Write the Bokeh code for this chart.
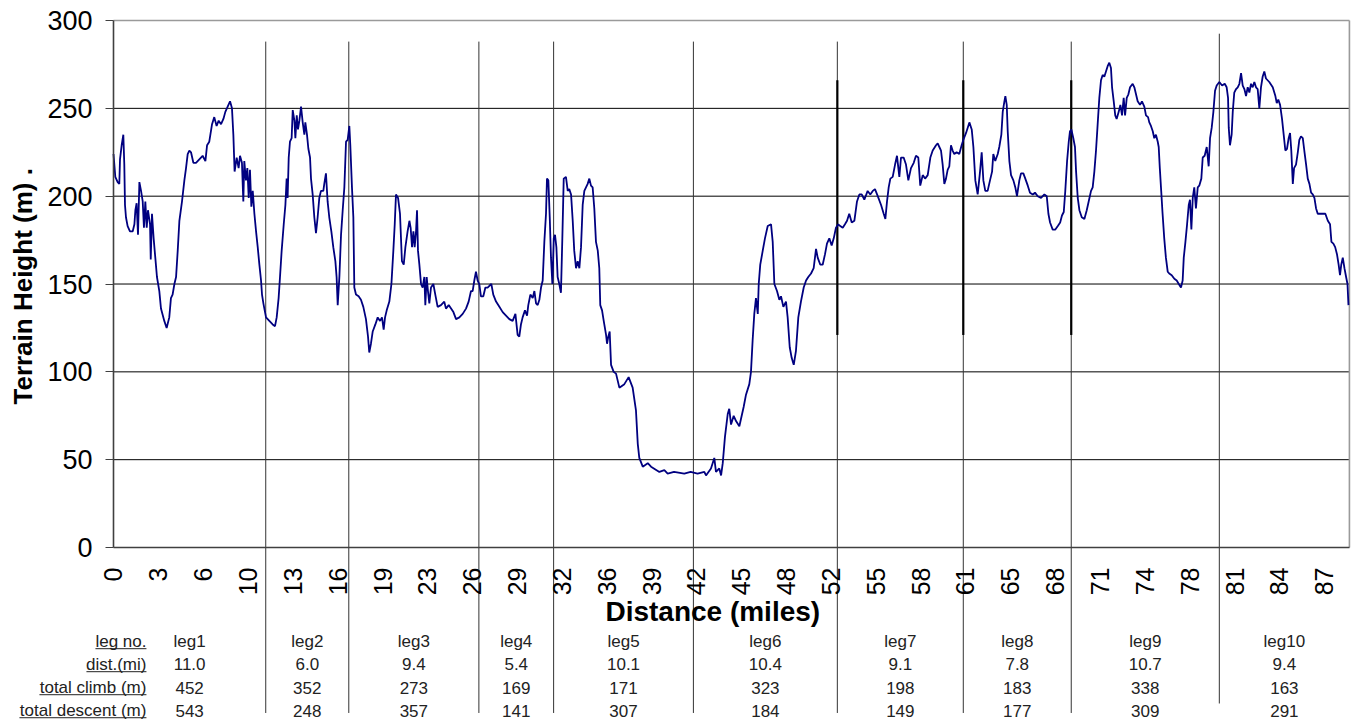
import math
from bokeh.plotting import figure
from bokeh.models import Range1d, FixedTicker, ColumnDataSource
from bokeh.core.properties import value
from bokeh.embed import file_html
from bokeh.resources import INLINE

# ---------------- data ----------------
dist_mi = [
    0.00, 0.13, 0.30, 0.42, 0.47, 0.59, 0.71, 0.78, 0.83, 0.90, 1.02, 1.19, 1.39, 1.51, 1.58, 1.67, 1.77, 1.87,
    1.99, 2.11, 2.20, 2.30, 2.40, 2.49, 2.64, 2.69, 2.78, 2.90, 3.02, 3.14, 3.31, 3.43, 3.67, 3.84, 4.03, 4.15,
    4.27, 4.40, 4.52, 4.64, 4.76, 4.95, 5.12, 5.24, 5.36, 5.48, 5.60, 5.77, 5.96, 6.20, 6.44, 6.64, 6.76, 6.92,
    7.12, 7.28, 7.45, 7.60, 7.77, 7.94, 8.08, 8.25, 8.42, 8.56, 8.66, 8.75, 8.90, 9.04, 9.14, 9.28, 9.38, 9.45,
    9.57, 9.67, 9.77, 9.86, 9.96, 10.06, 10.18, 10.30, 10.42, 10.54, 10.66, 10.73, 10.83, 11.02, 11.26, 11.50,
    11.67, 11.79, 11.93, 12.03, 12.15, 12.30, 12.42, 12.51, 12.58, 12.66, 12.75, 12.87, 12.95, 13.07, 13.14,
    13.24, 13.33, 13.43, 13.55, 13.67, 13.79, 13.86, 13.98, 14.08, 14.20, 14.27, 14.39, 14.51, 14.63, 14.75,
    14.87, 14.99, 15.16, 15.23, 15.35, 15.47, 15.59, 15.74, 15.88, 16.03, 16.12, 16.20, 16.32, 16.44, 16.56,
    16.68, 16.80, 16.92, 17.04, 17.11, 17.23, 17.33, 17.40, 17.52, 17.71, 17.88, 18.05, 18.24, 18.39, 18.48,
    18.60, 18.73, 18.92, 19.09, 19.26, 19.40, 19.52, 19.62, 19.74, 19.93, 20.08, 20.22, 20.32, 20.41, 20.56,
    20.70, 20.84, 20.97, 21.09, 21.25, 21.38, 21.47, 21.57, 21.67, 21.76, 21.86, 21.93, 22.00, 22.10, 22.22,
    22.34, 22.46, 22.53, 22.63, 22.72, 22.82, 22.94, 23.11, 23.25, 23.42, 23.66, 23.90, 24.02, 24.22, 24.39,
    24.56, 24.75, 24.99, 25.23, 25.47, 25.66, 25.83, 25.95, 26.07, 26.19, 26.31, 26.43, 26.55, 26.72, 26.87,
    27.03, 27.16, 27.30, 27.44, 27.64, 27.88, 28.12, 28.36, 28.60, 28.84, 29.04, 29.20, 29.32, 29.44, 29.56,
    29.73, 29.88, 29.97, 30.12, 30.29, 30.41, 30.53, 30.65, 30.77, 30.89, 31.01, 31.13, 31.25, 31.32, 31.42,
    31.52, 31.61, 31.71, 31.81, 31.90, 32.00, 32.09, 32.21, 32.33, 32.43, 32.53, 32.69, 32.82, 32.93, 33.06,
    33.18, 33.29, 33.42, 33.54, 33.66, 33.78, 33.90, 34.02, 34.14, 34.26, 34.38, 34.50, 34.62, 34.74, 34.86,
    34.99, 35.10, 35.17, 35.30, 35.42, 35.59, 35.66, 35.75, 35.85, 35.95, 36.14, 36.31, 36.43, 36.55,
    36.91, 37.22, 37.51, 37.75, 37.88, 37.99, 38.24, 38.60, 38.84, 39.44, 39.80, 40.04, 40.50, 41.24, 41.70,
    42.20, 42.69, 42.81, 43.17, 43.41, 43.53, 43.77, 43.90, 44.02, 44.18, 44.38, 44.49, 44.62, 44.81, 44.98,
    45.22, 45.53, 45.70, 45.94, 46.06, 46.18, 46.30,
    46.42, 46.55, 46.62, 46.73, 46.91, 47.07, 47.27, 47.51, 47.63, 47.75, 47.94, 48.11, 48.23, 48.40, 48.59,
    48.71, 48.86, 49.00, 49.15, 49.31, 49.48, 49.67, 49.87, 50.04, 50.20, 50.40, 50.59, 50.76, 50.88, 51.07,
    51.24, 51.41, 51.55, 51.72, 51.89, 52.04, 52.20, 52.37, 52.51, 52.69, 52.85, 53.00, 53.16, 53.34, 53.53,
    53.72, 53.89, 54.06, 54.25, 54.49, 54.68, 54.86, 55.02, 55.22, 55.46, 55.65, 55.77, 55.89, 56.01, 56.13,
    56.30, 56.47, 56.61, 56.78, 56.90, 57.09, 57.26, 57.43, 57.62, 57.82, 57.98, 58.15, 58.29, 58.47, 58.64,
    58.83, 59.02, 59.19,
    59.43, 59.55, 59.67, 59.79, 59.91, 60.03, 60.15, 60.27, 60.39, 60.51, 60.63, 60.75, 60.92, 61.11, 61.28,
    61.40, 61.60, 61.84, 62.01, 62.13, 62.27, 62.44, 62.61, 62.73, 62.85, 62.99, 63.16, 63.33, 63.48, 63.57,
    63.71, 63.89, 64.00, 64.15, 64.25, 64.37, 64.44, 64.54, 64.61, 64.73, 64.85, 65.02, 65.16, 65.28, 65.45,
    65.57, 65.74, 65.88, 66.06, 66.22, 66.42, 66.58, 66.78, 67.02, 67.26, 67.43, 67.55, 67.67, 67.86, 68.05,
    68.23, 68.40, 68.53, 68.66, 68.77, 68.90, 69.02, 69.11, 69.21, 69.35, 69.47, 69.55, 69.67, 69.79, 69.96,
    70.15, 70.32, 70.46, 70.63, 70.75, 70.87, 70.99, 71.11, 71.23, 71.35, 71.47, 71.59, 71.71, 71.83, 71.95,
    72.07, 72.15, 72.27, 72.38, 72.48, 72.63, 72.75, 72.87, 72.99, 73.09, 73.21, 73.33, 73.45, 73.64, 73.76,
    73.88, 74.00, 74.17, 74.31, 74.48, 74.60, 74.75, 74.84, 74.96, 75.09, 75.20, 75.32, 75.45, 75.52, 75.60,
    75.70, 75.80, 75.92, 76.04, 76.17, 76.28, 76.46, 76.65, 76.82, 76.97, 77.13, 77.25, 77.33, 77.45, 77.57,
    77.69, 77.78, 77.88, 77.98, 78.09, 78.21, 78.34, 78.45, 78.60, 78.70, 78.84, 78.99, 79.13, 79.23, 79.35,
    79.47, 79.59, 79.71, 79.90, 80.10, 80.29, 80.43, 80.53, 80.58, 80.67, 80.79, 80.87, 80.98, 81.11, 81.23,
    81.35, 81.47, 81.59, 81.71, 81.83, 81.95, 82.07, 82.19, 82.31, 82.43, 82.55, 82.67, 82.79, 82.91, 83.03,
    83.15, 83.27, 83.51, 83.76, 83.95, 84.05, 84.16, 84.29, 84.43, 84.55, 84.67, 84.79, 84.91, 85.01, 85.10,
    85.21, 85.30, 85.44, 85.57, 85.68, 85.80, 85.93, 86.04, 86.17, 86.29, 86.41, 86.53, 86.65, 86.77, 86.89,
    87.01, 87.25, 87.42, 87.56, 87.74, 87.90, 88.00, 88.14, 88.27, 88.40, 88.52, 88.62, 88.71, 88.82, 88.94,
    89.06, 89.16, 89.23,
]
height_m = [
    224, 211, 208, 207, 221, 229, 235, 218, 195, 188, 183, 180, 180, 184, 192, 196, 178, 208,
    203, 197, 182, 197, 182, 192, 184, 164, 190, 176, 165, 154, 146, 136, 129, 125, 131, 142,
    144, 150, 154, 169, 186, 197, 209, 216, 224, 226, 225, 219, 219, 221, 223, 220, 229, 231,
    241, 245, 240, 243, 241, 244, 248, 251, 254, 250, 235, 214, 222, 216, 223, 219, 197, 220,
    209, 216, 199, 215, 194, 203, 190, 180, 171, 161, 152, 144, 139, 131, 129, 127,
    126, 131, 142, 154, 169, 184, 195, 210, 199, 222, 231, 233, 249, 243, 233,
    246, 238, 243, 251, 242, 235, 242, 235, 227, 222, 210, 201, 188, 179, 188,
    199, 203, 203, 207, 213, 197, 188, 180, 171, 163, 154, 138, 154, 178, 192,
    205, 231, 232, 240, 229, 205, 188, 148, 144, 143, 141, 137, 130, 120, 111,
    116, 123, 127, 131, 129, 131, 124, 131, 135, 140, 150, 169, 184, 201, 199,
    190, 163, 161, 171, 180, 186, 182, 171, 180, 171, 180, 192, 169, 161, 150,
    148, 154, 138, 154, 146, 139, 148, 150, 144, 137, 138, 140, 136, 138, 136,
    134, 130, 131, 133, 136, 140, 146, 146, 152, 157, 152, 150, 143, 143, 148,
    148, 149, 150, 144, 140, 137, 134, 132, 130, 129, 133, 121, 120, 127, 131,
    135, 132, 138, 144, 142, 146, 139, 138, 141, 148, 152, 174, 190, 210, 209,
    188, 165, 150, 176, 178, 171, 154, 150, 145, 176, 210, 211, 203, 204, 201,
    186, 169, 159, 163, 159, 171, 195, 203, 205, 207, 210, 206, 205, 193, 174,
    169, 159, 138, 135, 129, 121, 116, 120, 123, 104, 100, 99, 95, 91,
    93, 97, 91, 78, 59, 51, 46, 48, 46, 43, 44, 42, 43, 42, 43,
    42, 43, 41, 45, 51, 43, 45, 41, 48, 63, 76, 79, 70, 75, 72,
    69, 80, 87, 93, 100, 118, 133,
    142, 133, 150, 161, 169, 176, 183, 184, 174, 150, 146, 141, 143, 137, 140,
    131, 114, 108, 104, 112, 131, 140, 148, 152, 154, 156, 159, 170, 165, 161,
    161, 167, 173, 176, 172, 176, 182, 184, 183, 182, 184, 186, 190, 185, 186,
    197, 201, 201, 198, 203, 201, 203, 204, 200, 195, 190, 187, 197, 205, 210,
    211, 218, 223, 211, 222, 222, 218, 209, 216, 219, 223, 222, 206, 212, 210,
    212, 222, 226,
    229, 230, 228, 226, 218, 207, 210, 215, 217, 229, 226, 224, 225, 224, 229,
    232, 236, 242, 238, 228, 209, 201, 214, 225, 209, 203, 203, 209, 214, 224,
    220, 224, 228, 235, 248, 254, 257, 252, 237, 220, 212, 209, 205, 200, 209,
    213, 213, 210, 206, 202, 201, 202, 200, 199, 201, 200, 190, 185, 181, 181,
    183, 185, 189, 191, 203, 220, 231, 237, 238, 233, 228, 214, 199, 192, 188,
    187, 192, 197, 203, 205, 214, 226, 241, 256, 266, 269, 268, 271, 274, 276,
    273, 262, 254, 246, 244, 248, 252, 246, 256, 246, 256, 258, 262, 264, 262,
    258, 254, 252, 254, 251, 246, 245, 242, 240, 237, 233, 235, 231, 228, 216,
    203, 190, 176, 165, 157, 156, 155, 153, 152, 150, 148, 152, 165, 174, 184,
    195, 198, 181, 199, 205, 193, 205, 206, 210, 222, 223, 228, 217, 233, 239,
    248, 260, 263, 265, 263, 264, 262, 256, 239, 229, 235, 248, 259, 261, 262,
    264, 270, 263, 261, 257, 262, 259, 264, 262, 265, 262, 261, 250, 262, 268,
    271, 267, 265, 262, 257, 253, 255, 252, 244, 235, 226, 227, 233, 236, 226,
    207, 216, 218, 225, 232, 234, 233, 226, 218, 210, 207, 202, 201, 199, 193,
    190, 190, 190, 190, 186, 184, 174, 173, 171, 167, 161, 155, 161, 165, 159,
    154, 150, 138,
]

leg_names = ["leg1", "leg2", "leg3", "leg4", "leg5", "leg6", "leg7", "leg8", "leg9", "leg10"]
leg_dist_mi = [11.0, 6.0, 9.4, 5.4, 10.1, 10.4, 9.1, 7.8, 10.7, 9.4]
leg_climb_m = [452, 352, 273, 169, 171, 323, 198, 183, 338, 163]
leg_descent_m = [543, 248, 357, 141, 307, 184, 149, 177, 309, 291]
row_labels = ["leg no.", "dist.(mi)", "total climb (m)", "total descent (m)"]

x_tick_labels = ["0", "3", "6", "10", "13", "16", "19", "23", "26", "29", "32", "36", "39", "42",
                 "45", "48", "52", "55", "58", "61", "65", "68", "71", "74", "78", "81", "84", "87"]
x_tick_step_mi = 3.24
y_ticks = [0, 50, 100, 150, 200, 250, 300]
y_grid = [50, 100, 150, 200, 250]

# ---------------- derived ----------------
bounds = [0.0]
for d in leg_dist_mi:
    bounds.append(round(bounds[-1] + d, 2))
total = bounds[-1]
mids = [(a + b) / 2 for a, b in zip(bounds[:-1], bounds[1:])]
inner = bounds[1:-1]
tick_pos = [round(i * x_tick_step_mi, 2) for i in range(len(x_tick_labels))]

FONT = "Liberation Sans"
W, H = 1351, 721
# the frame covers the whole canvas; both axes sit at fixed data locations
X0, X1 = -8.165, 89.45
Y0, Y1 = -99.05, 311.4
PX_PER_MI = W / (X1 - X0)

p = figure(width=W, height=H, output_backend="svg", toolbar_location=None,
           x_range=Range1d(X0, X1), y_range=Range1d(Y0, Y1),
           min_border_left=0, min_border_right=0, min_border_top=0, min_border_bottom=0)
p.outline_line_color = None
p.background_fill_color = "white"
p.border_fill_color = "white"
p.xgrid.visible = False
p.ygrid.visible = False

# x axis along y = 0
xa = p.xaxis[0]
xa.fixed_location = 0
xa.bounds = (0, total)
xa.ticker = FixedTicker(ticks=tick_pos)
xa.major_label_overrides = dict(zip(tick_pos, x_tick_labels))
xa.major_label_orientation = math.pi / 2
xa.major_tick_out = 0
xa.major_tick_in = 0
xa.minor_tick_out = 0
xa.minor_tick_in = 0
xa.major_label_standoff = 20
xa.axis_line_color = "#404040"
xa.axis_line_width = 1.6
xa.major_label_text_font = FONT
xa.major_label_text_font_size = "25px"
xa.major_label_text_color = "black"

# y axis along x = 0
ya = p.yaxis[0]
ya.fixed_location = 0
ya.ticker = FixedTicker(ticks=y_ticks)
ya.bounds = (0, 300)
ya.major_tick_out = 8
ya.major_tick_in = 0
ya.minor_tick_out = 0
ya.minor_tick_in = 0
ya.major_label_standoff = 13
ya.axis_line_color = "#404040"
ya.axis_line_width = 1.6
ya.major_tick_line_color = "#404040"
ya.major_label_text_font = FONT
ya.major_label_text_font_size = "27px"
ya.major_label_text_color = "black"

# horizontal gridlines across the plot area
p.segment(x0=[0] * len(y_grid), y0=y_grid, x1=[total] * len(y_grid), y1=y_grid,
          line_color="black", line_width=1)
# plot-area border (top and right)
p.segment(x0=[0, total], y0=[300, 0], x1=[total, total], y1=[300, 300],
          line_color="#9a9a9a", line_width=1.6)

# leg boundary lines
p.segment(x0=inner[:-1], y0=[288] * (len(inner) - 1), x1=inner[:-1], y1=[-94.2] * (len(inner) - 1),
          line_color="#333333", line_width=1)
p.segment(x0=inner[-1:], y0=[292.5], x1=inner[-1:], y1=[-88.8], line_color="#333333", line_width=1)
heavy = bounds[6:9]
p.segment(x0=heavy, y0=[266] * 3, x1=heavy, y1=[121] * 3, line_color="black", line_width=2.2)

# terrain profile
p.line(dist_mi, height_m, line_color="#000080", line_width=1.8)

# axis titles
p.text(x=[-6.575], y=[152.8], text=["Terrain Height (m)   ."], angle=math.pi / 2,
       text_align="center", text_baseline="middle", text_font=value(FONT),
       text_font_style="bold", text_font_size="26px", text_color="black")
p.text(x=[43.3], y=[-36.4], text=["Distance (miles)"], text_align="center", text_baseline="middle",
       text_font=value(FONT), text_font_style="bold", text_font_size="28px", text_color="black")

# table beneath the chart
row_y = [-53.5, -66.6, -79.7, -92.8]
label_right = 2.38
row_cells = [leg_names, [f"{d:.1f}" for d in leg_dist_mi], [str(v) for v in leg_climb_m],
             [str(v) for v in leg_descent_m]]
for ry, cells in zip(row_y, row_cells):
    src = ColumnDataSource(dict(x=mids, y=[ry] * len(mids), t=cells))
    p.text(x="x", y="y", text="t", source=src, text_align="center", text_baseline="middle",
           text_font=value(FONT), text_font_size="17px", text_color="#222222")

p.text(x=[label_right] * 4, y=row_y, text=row_labels, text_align="right", text_baseline="middle",
       text_font=value(FONT), text_font_size="17px", text_color="#222222")
ul_px = [51, 60, 107, 127]
p.segment(x0=[label_right - w / PX_PER_MI for w in ul_px], y0=[ry - 4.1 for ry in row_y],
          x1=[label_right] * 4, y1=[ry - 4.1 for ry in row_y], line_color="#222222", line_width=1)

open("out.html", "w").write(file_html(p, INLINE))
